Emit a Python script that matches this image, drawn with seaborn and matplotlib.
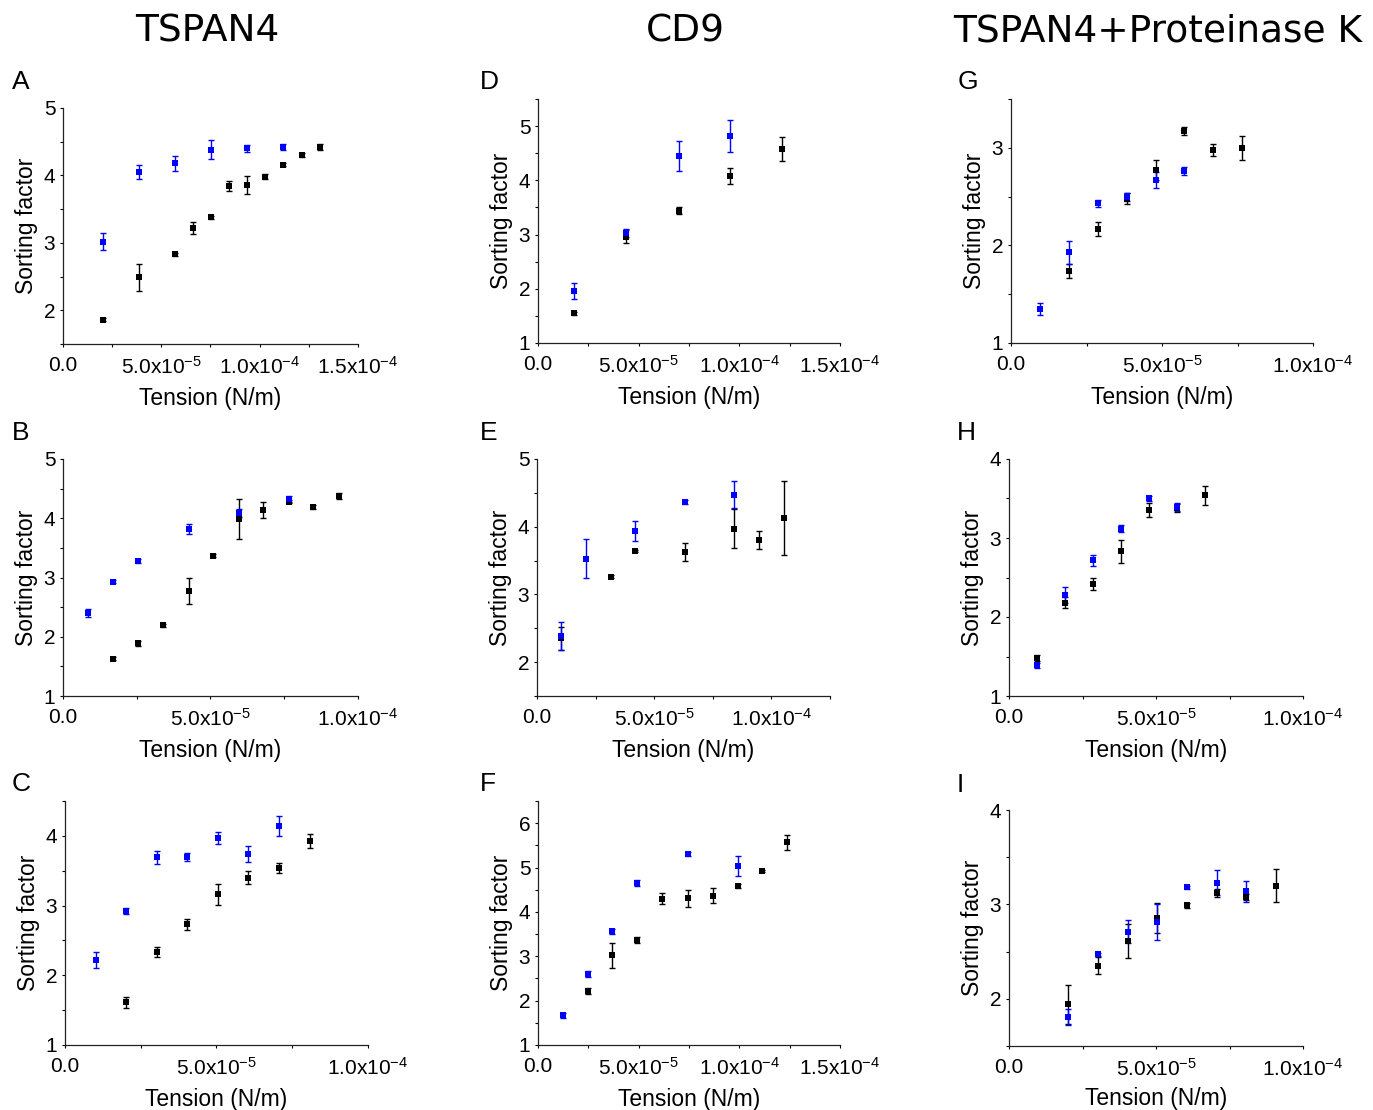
import matplotlib
matplotlib.use("Agg")
import matplotlib.pyplot as plt
from matplotlib import ticker
import pandas as pd
import seaborn as sns

# ---- data (tension in units of 1e-5 N/m) ----
# Panel A: TSPAN4
a_blue_x = [2.04, 3.87, 5.71, 7.54, 9.38, 11.2]
a_blue_y = [3.02, 4.05, 4.18, 4.38, 4.40, 4.42]
a_blue_e = [0.12, 0.10, 0.11, 0.14, 0.05, 0.05]
a_black_x = [2.04, 3.87, 5.71, 6.62, 7.54, 8.46, 9.38, 10.29, 11.2, 12.15, 13.06]
a_black_y = [1.86, 2.49, 2.83, 3.22, 3.38, 3.84, 3.86, 3.98, 4.16, 4.31, 4.42]
a_black_e = [0.02, 0.20, 0.02, 0.09, 0.02, 0.07, 0.13, 0.04, 0.02, 0.03, 0.05]

# Panel B: TSPAN4
b_blue_x = [0.85, 1.70, 2.55, 4.26, 5.95, 7.66]
b_blue_y = [2.40, 2.93, 3.28, 3.82, 4.09, 4.33]
b_blue_e = [0.07, 0.03, 0.04, 0.08, 0.07, 0.05]
b_black_x = [1.70, 2.55, 3.40, 4.26, 5.10, 5.95, 6.79, 7.66, 8.49, 9.35]
b_black_y = [1.63, 1.89, 2.19, 2.77, 3.37, 3.99, 4.14, 4.28, 4.19, 4.37]
b_black_e = [0.02, 0.04, 0.02, 0.22, 0.02, 0.34, 0.14, 0.03, 0.04, 0.05]

# Panel C: TSPAN4
c_blue_x = [1.01, 2.01, 3.03, 4.04, 5.05, 6.05, 7.06]
c_blue_y = [2.22, 2.92, 3.69, 3.70, 3.97, 3.74, 4.14]
c_blue_e = [0.12, 0.04, 0.09, 0.06, 0.09, 0.11, 0.14]
c_black_x = [2.01, 3.03, 4.04, 5.05, 6.05, 7.06, 8.07]
c_black_y = [1.61, 2.33, 2.73, 3.16, 3.40, 3.54, 3.92]
c_black_e = [0.08, 0.07, 0.08, 0.15, 0.09, 0.07, 0.10]

# Panel D: CD9
d_blue_x = [1.80, 4.38, 6.98, 9.56]
d_blue_y = [1.96, 3.03, 4.45, 4.82]
d_blue_e = [0.14, 0.08, 0.27, 0.29]
d_black_x = [1.80, 4.38, 6.98, 9.56, 12.14]
d_black_y = [1.55, 2.96, 3.44, 4.08, 4.57]
d_black_e = [0.03, 0.12, 0.07, 0.15, 0.22]

# Panel E: CD9
e_blue_x = [1.04, 2.09, 4.20, 6.31, 8.41]
e_blue_y = [2.39, 3.53, 3.94, 4.36, 4.47]
e_blue_e = [0.21, 0.29, 0.15, 0.03, 0.20]
e_black_x = [1.04, 3.15, 4.20, 6.31, 8.41, 9.48, 10.52]
e_black_y = [2.35, 3.26, 3.64, 3.63, 3.97, 3.80, 4.13]
e_black_e = [0.17, 0.02, 0.02, 0.13, 0.29, 0.13, 0.55]

# Panel F: CD9
f_blue_x = [1.24, 2.46, 3.70, 4.94, 7.43, 9.91]
f_blue_y = [1.67, 2.60, 3.56, 4.65, 5.30, 5.03]
f_blue_e = [0.06, 0.06, 0.06, 0.06, 0.05, 0.22]
f_black_x = [2.46, 3.70, 4.94, 6.18, 7.43, 8.67, 9.91, 11.15, 12.39]
f_black_y = [2.22, 3.02, 3.36, 4.30, 4.31, 4.36, 4.58, 4.93, 5.57]
f_black_e = [0.07, 0.29, 0.07, 0.13, 0.19, 0.17, 0.04, 0.02, 0.17]

# Panel G: TSPAN4 + Proteinase K
g_blue_x = [0.95, 1.91, 2.87, 3.83, 4.79, 5.74]
g_blue_y = [1.35, 1.93, 2.43, 2.50, 2.67, 2.76]
g_blue_e = [0.06, 0.12, 0.04, 0.04, 0.08, 0.04]
g_black_x = [1.91, 2.87, 3.83, 4.79, 5.74, 6.70, 7.66]
g_black_y = [1.74, 2.17, 2.48, 2.77, 3.17, 2.98, 3.00]
g_black_e = [0.07, 0.07, 0.06, 0.10, 0.04, 0.06, 0.12]

# Panel H: TSPAN4 + Proteinase K
h_blue_x = [0.95, 1.90, 2.86, 3.81, 4.76, 5.73]
h_blue_y = [1.39, 2.28, 2.72, 3.12, 3.50, 3.39]
h_blue_e = [0.03, 0.10, 0.07, 0.05, 0.03, 0.05]
h_black_x = [0.95, 1.90, 2.86, 3.81, 4.76, 5.73, 6.68]
h_black_y = [1.48, 2.18, 2.42, 2.83, 3.35, 3.38, 3.54]
h_black_e = [0.04, 0.07, 0.08, 0.15, 0.09, 0.05, 0.12]

# Panel I: TSPAN4 + Proteinase K
i_blue_x = [2.02, 3.03, 4.04, 5.03, 6.05, 7.06, 8.07]
i_blue_y = [1.81, 2.47, 2.71, 2.81, 3.18, 3.23, 3.14]
i_blue_e = [0.085, 0.02, 0.12, 0.19, 0.02, 0.13, 0.11]
i_black_x = [2.02, 3.03, 4.04, 5.03, 6.05, 7.06, 8.07, 9.09]
i_black_y = [1.94, 2.35, 2.61, 2.86, 2.99, 3.12, 3.08, 3.20]
i_black_e = [0.21, 0.09, 0.18, 0.16, 0.03, 0.04, 0.03, 0.17]

col_titles = ["TSPAN4", "CD9", "TSPAN4+Proteinase K"]

panels = {
    "A": (a_blue_x, a_blue_y, a_blue_e, a_black_x, a_black_y, a_black_e),
    "B": (b_blue_x, b_blue_y, b_blue_e, b_black_x, b_black_y, b_black_e),
    "C": (c_blue_x, c_blue_y, c_blue_e, c_black_x, c_black_y, c_black_e),
    "D": (d_blue_x, d_blue_y, d_blue_e, d_black_x, d_black_y, d_black_e),
    "E": (e_blue_x, e_blue_y, e_blue_e, e_black_x, e_black_y, e_black_e),
    "F": (f_blue_x, f_blue_y, f_blue_e, f_black_x, f_black_y, f_black_e),
    "G": (g_blue_x, g_blue_y, g_blue_e, g_black_x, g_black_y, g_black_e),
    "H": (h_blue_x, h_blue_y, h_blue_e, h_black_x, h_black_y, h_black_e),
    "I": (i_blue_x, i_blue_y, i_blue_e, i_black_x, i_black_y, i_black_e),
}

# axis ranges: xmax (N/m), ymin, ymax
ranges = {
    "A": (1.5e-4, 1.5, 5.0), "B": (1.0e-4, 1.0, 5.0), "C": (1.0e-4, 1.0, 4.5),
    "D": (1.5e-4, 1.0, 5.5), "E": (1.25e-4, 1.5, 5.0), "F": (1.5e-4, 1.0, 6.5),
    "G": (1.0e-4, 1.0, 3.5), "H": (1.0e-4, 1.0, 4.0), "I": (1.0e-4, 1.5, 4.0),
}

# layout in pixels: axes box (x0, x1, ytop, ybottom) and panel letter (x, y)
W, H = 1373, 1110
boxes = {
    "A": (63, 358, 108, 344), "B": (63, 358, 459, 696), "C": (65, 368, 801, 1045),
    "D": (538, 840, 99, 343), "E": (537, 830, 459, 696), "F": (538, 840, 801, 1045),
    "G": (1011, 1313, 99, 343), "H": (1009, 1303, 459, 696), "I": (1009, 1303, 810, 1046),
}
letter_pos = {
    "A": (12, 82), "B": (12, 433), "C": (12, 784),
    "D": (480, 82), "E": (480, 433), "F": (480, 784),
    "G": (958, 82), "H": (957, 433), "I": (957, 785),
}

sns.set_style("ticks")
plt.rcParams["font.family"] = ["Liberation Sans", "DejaVu Sans"]
plt.rcParams["text.color"] = "black"
plt.rcParams["axes.labelcolor"] = "black"
plt.rcParams["mathtext.fontset"] = "custom"
plt.rcParams["mathtext.rm"] = "Liberation Sans"
plt.rcParams["mathtext.it"] = "Liberation Sans"
plt.rcParams["mathtext.default"] = "regular"


def fmt_x(v, pos):
    if abs(v) < 1e-12:
        return "0.0"
    exp = int(f"{v:e}".split("e")[1])
    mant = v / 10 ** exp
    return "%.1fx10$^{%d}$" % (mant, exp)


fig = plt.figure(figsize=(W / 100, H / 100), dpi=100)

for name, (bx, by, be, kx, ky, ke) in panels.items():
    x0, x1, yt, yb = boxes[name]
    ax = fig.add_axes([x0 / W, 1 - yb / H, (x1 - x0) / W, (yb - yt) / H])
    df = pd.DataFrame({
        "Tension": [v * 1e-5 for v in kx + bx],
        "Sorting factor": ky + by,
        "err": ke + be,
        "Group": ["black"] * len(kx) + ["blue"] * len(bx),
    })
    for grp, col in [("black", "black"), ("blue", "#0000ff")]:
        sub = df[df.Group == grp]
        ax.errorbar(sub["Tension"], sub["Sorting factor"], yerr=sub["err"], fmt="none",
                    ecolor=col, elinewidth=1.0, capsize=2.5, capthick=1.0, zorder=2)
        sns.scatterplot(data=sub, x="Tension", y="Sorting factor", color=col, marker="s",
                        s=22, linewidth=0, ax=ax, zorder=3, legend=False)

    xmax, ymin, ymax = ranges[name]
    ax.set_xlim(0, xmax)
    ax.set_ylim(ymin, ymax)
    ax.xaxis.set_major_locator(ticker.MultipleLocator(5e-5))
    ax.xaxis.set_minor_locator(ticker.MultipleLocator(2.5e-5))
    ax.yaxis.set_major_locator(ticker.MultipleLocator(1))
    ax.yaxis.set_minor_locator(ticker.MultipleLocator(0.5))
    ax.xaxis.set_major_formatter(ticker.FuncFormatter(fmt_x))
    ax.yaxis.set_major_formatter(ticker.FuncFormatter(lambda v, p: "%d" % v))
    ax.tick_params(which="both", direction="out", length=2.5, width=0.8, colors="black",
                   labelsize=15)
    ax.tick_params(axis="x", pad=6)
    ax.tick_params(axis="y", pad=3)
    sns.despine(ax=ax)
    for sp in ["left", "bottom"]:
        ax.spines[sp].set_linewidth(0.9)
        ax.spines[sp].set_color("#222222")
    ax.set_xlabel("Tension (N/m)", fontsize=16.5, labelpad=5 if name == "I" else 7)
    ax.set_ylabel("Sorting factor", fontsize=16.5, labelpad=4)
    ax.grid(False)
    lx, ly = letter_pos[name]
    fig.text(lx / W, 1 - ly / H, name, fontsize=19, ha="left", va="center")

for cx, title in zip([207, 685, 1158], col_titles):
    fig.text(cx / W, 1 - 31 / H, title, fontsize=27, ha="center", va="center",
             family="DejaVu Sans")

fig.savefig("out.png", dpi=100)
